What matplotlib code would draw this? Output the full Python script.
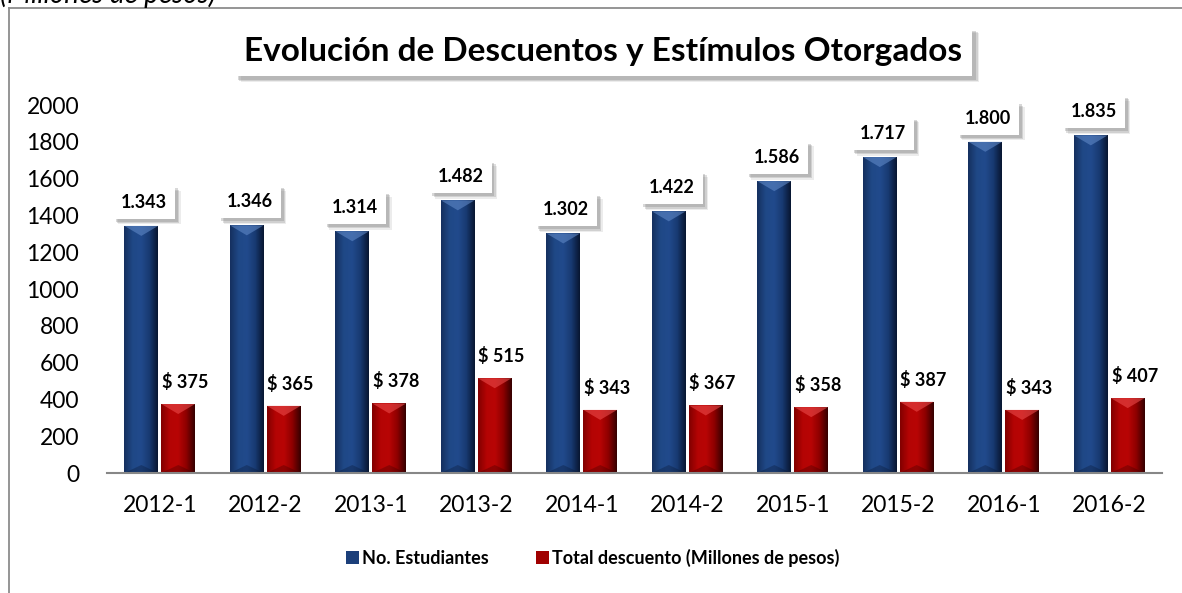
import numpy as np
import matplotlib.pyplot as plt
import matplotlib.patheffects as pe
from matplotlib.colors import LinearSegmentedColormap
from matplotlib.patches import Polygon
from matplotlib.lines import Line2D

plt.rcParams['font.family'] = ['Lato', 'DejaVu Sans']

periods = ['2012-1', '2012-2', '2013-1', '2013-2', '2014-1',
           '2014-2', '2015-1', '2015-2', '2016-1', '2016-2']
students = [1343, 1346, 1314, 1482, 1302, 1422, 1586, 1717, 1800, 1835]
discount = [375, 365, 378, 515, 343, 367, 358, 387, 343, 407]
student_labels = ['1.343', '1.346', '1.314', '1.482', '1.302',
                  '1.422', '1.586', '1.717', '1.800', '1.835']

blue_cmap = LinearSegmentedColormap.from_list(
    'blue', ['#15305f', '#1f4886', '#214a8c', '#183a72', '#081631'])
red_cmap = LinearSegmentedColormap.from_list(
    'red', ['#820000', '#b40404', '#b80505', '#8e0000', '#360000'])

fig = plt.figure(figsize=(11.82, 5.93), dpi=100)
ax = fig.add_axes([107 / 1182, 1 - 473 / 593, 1055 / 1182, 368 / 593])

x = np.arange(len(periods))
w = 0.32
b1 = ax.bar(x - 0.175, students, w, color='#1c3f7a', zorder=2)
b2 = ax.bar(x + 0.175, discount, w, color='#a00000', zorder=2)

grad = np.linspace(0, 1, 64).reshape(1, -1)
px = 2000 / 368  # data units per pixel (y)


def shade(bars, cmap, top_col, bot_col):
    for b in bars:
        x0 = b.get_x()
        bw, bh = b.get_width(), b.get_height()
        im = ax.imshow(grad, cmap=cmap, aspect='auto',
                       extent=(x0, x0 + bw, 0, bh), zorder=3)
        im.set_clip_path(b)
        ax.add_patch(Polygon([(x0, bh), (x0 + bw, bh), (x0 + bw / 2, bh - 10 * px)],
                             closed=True, fc=top_col, ec='none', alpha=0.6, zorder=4))
        ax.add_patch(Polygon([(x0, 0), (x0 + bw, 0), (x0 + bw / 2, 8 * px)],
                             closed=True, fc=bot_col, ec='none', alpha=0.3, zorder=4))


shade(b1, blue_cmap, '#5f88c6', '#06122a')
shade(b2, red_cmap, '#ea4a4a', '#300000')

ax.set_xlim(-0.5, len(periods) - 0.5)
ax.set_ylim(0, 2000)
ax.set_yticks(range(0, 2001, 200))
ax.set_xticks(x)
ax.set_xticklabels(periods)
ax.tick_params(axis='both', length=0, labelsize=16.5)
ax.tick_params(axis='x', pad=16)
ax.tick_params(axis='y', pad=20)
for s in ['left', 'right', 'top']:
    ax.spines[s].set_visible(False)
ax.spines['bottom'].set_color('#878787')
ax.spines['bottom'].set_linewidth(1.5)
ax.spines['bottom'].set_zorder(5)


def soft_shadow(txt, off):
    txt.get_bbox_patch().set_path_effects([
        pe.SimplePatchShadow(offset=(off + 1, -off - 1), shadow_rgbFace='#808080', alpha=0.15),
        pe.SimplePatchShadow(offset=(off, -off), shadow_rgbFace='#808080', alpha=0.25),
        pe.SimplePatchShadow(offset=(off - 1, -off + 1), shadow_rgbFace='#808080', alpha=0.3),
        pe.Normal()])


# value labels
for b, lab in zip(b1, student_labels):
    cx = b.get_x() + b.get_width() / 2
    t = ax.annotate(lab, (cx, b.get_height()), xytext=(2, 17), textcoords='offset points',
                    ha='center', va='center', fontsize=13, fontweight='bold',
                    color='black', annotation_clip=False, zorder=7,
                    bbox=dict(boxstyle='square,pad=0.45', fc='white', ec='none'))
    soft_shadow(t, 3)
for b, v in zip(b2, discount):
    cx = b.get_x() + b.get_width() / 2
    ax.annotate(f'$ {v}', (cx, b.get_height()), xytext=(5, 16), textcoords='offset points',
                ha='center', va='center', fontsize=13, fontweight='bold',
                color='black', annotation_clip=False, zorder=7)

# title with soft shadow
t = fig.text(603 / 1182, 1 - 51 / 593, 'Evolución de Descuentos y Estímulos Otorgados',
             ha='center', va='center', fontsize=24, fontweight='bold', color='black',
             bbox=dict(boxstyle='square,pad=0.3', fc='white', ec='none'))
soft_shadow(t, 4)

# cut-off caption at the very top
fig.text(0.0, 1 - 3 / 593, '(Millones de pesos)', ha='left', va='baseline',
         fontsize=20, style='italic', color='black')

# chart frame (left and top edges)
fig.add_artist(Line2D([9 / 1182, 9 / 1182], [0, 1 - 8 / 593], color='#8c8c8c', lw=1.3))
fig.add_artist(Line2D([9 / 1182, 1], [1 - 8 / 593, 1 - 8 / 593], color='#8c8c8c', lw=1.3))

# legend
handles = [plt.Rectangle((0, 0), 1, 1, fc='#1c3f7a'),
           plt.Rectangle((0, 0), 1, 1, fc='#a00000')]
fig.legend(handles, ['No. Estudiantes', 'Total descuento (Millones de pesos)'],
           loc='center', bbox_to_anchor=(593 / 1182, 1 - 558 / 593), ncol=2,
           frameon=False, prop={'weight': 'bold', 'size': 13},
           handlelength=0.7, handleheight=0.7, handletextpad=0.2, columnspacing=2.6)

fig.savefig('out.png', dpi=100)
